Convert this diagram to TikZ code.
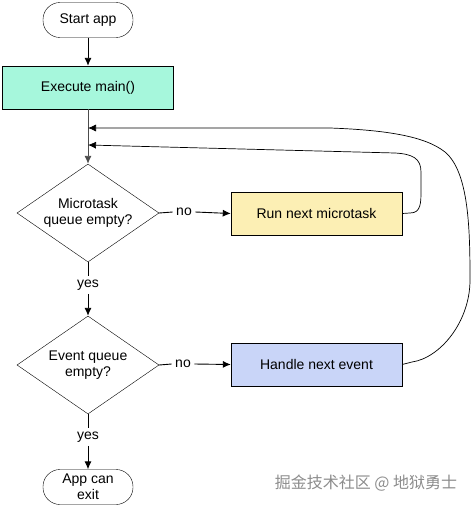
\documentclass[tikz,border=0pt]{standalone}
\usepackage{fontspec}
\setmainfont{Liberation Sans}
\newfontfamily\cjk{Noto Sans CJK SC}
\usetikzlibrary{shapes.geometric,arrows.meta}
\definecolor{mintfill}{HTML}{A6F7DC}
\definecolor{yelfill}{HTML}{FCEFB4}
\definecolor{bluefill}{HTML}{C9D5F8}
\tikzset{
  lbl/.style={font=\fontsize{14}{16}\selectfont},
  term/.style={draw,rounded corners=17pt,minimum width=90pt,minimum height=35pt,inner sep=0pt,lbl,align=center,fill=white},
  procbox/.style={draw,minimum width=171pt,minimum height=43pt,inner sep=0pt,lbl},
  decis/.style={draw,diamond,shape aspect=1.45,minimum width=142pt,minimum height=98pt,inner sep=0pt,lbl,align=center},
  arr/.style={-{Latex[length=8pt,width=7pt]},line width=0.9pt},
  ln/.style={line width=0.9pt},
}
\begin{document}
\begin{tikzpicture}[x=1pt,y=-1pt]
\useasboundingbox (0,0) rectangle (471,506);
\node[term] (start) at (88,20) {Start app};
\node[procbox,fill=mintfill] (main) at (88,87.5) {Execute main()};
\coordinate (j1) at (88,128);
\coordinate (j2) at (88,145);
\node[decis] (micro) at (88,213) {Microtask\\queue empty?};
\node[lbl] (no1) at (184,212) {no};
\node[procbox,fill=yelfill] (run) at (316.5,213.5) {Run next microtask};
\node[lbl] (yes1) at (88,285) {yes};
\node[decis] (event) at (88,365) {Event queue\\empty?};
\node[lbl] (no2) at (183,364) {no};
\node[procbox,fill=bluefill] (handle) at (316.5,364.5) {Handle next event};
\node[lbl] (yes2) at (88,437) {yes};
\node[term] (exit) at (88,487) {App can\\exit};
\node[font=\cjk\fontsize{16}{18}\selectfont,text=black!45] (wm) at (366,483) {掘金技术社区 @ 地狱勇士};

\draw[arr] (start) -- (main);
\draw[arr,draw=black!70] (main) -- (micro.north);
\draw[ln] (micro.east) -- (no1.west);
\draw[arr] (no1.east) -- (run.west);
\draw[ln] (micro.south) -- (yes1.north);
\draw[arr] (yes1.south) -- (event.north);
\draw[ln] (event.east) -- (no2.west);
\draw[arr] (no2.east) -- (handle.west);
\draw[ln] (event.south) -- (yes2.north);
\draw[arr] (yes2.south) -- (exit.north);

\draw[arr,line width=0.7pt] (run.east) -- (410,213) .. controls (421,213) and (421,203) .. (421,190)
  -- (421,172) .. controls (421,158) and (412,154) .. (395,153) -- (j2);
\draw[arr,line width=0.7pt] (handle.east) -- (412,362) .. controls (440,358) and (470,322) .. (470,280)
  .. controls (470,230) and (469,172) .. (445,152) .. controls (425,136) and (385,130) .. (330,128) -- (j1);
\end{tikzpicture}
\end{document}
